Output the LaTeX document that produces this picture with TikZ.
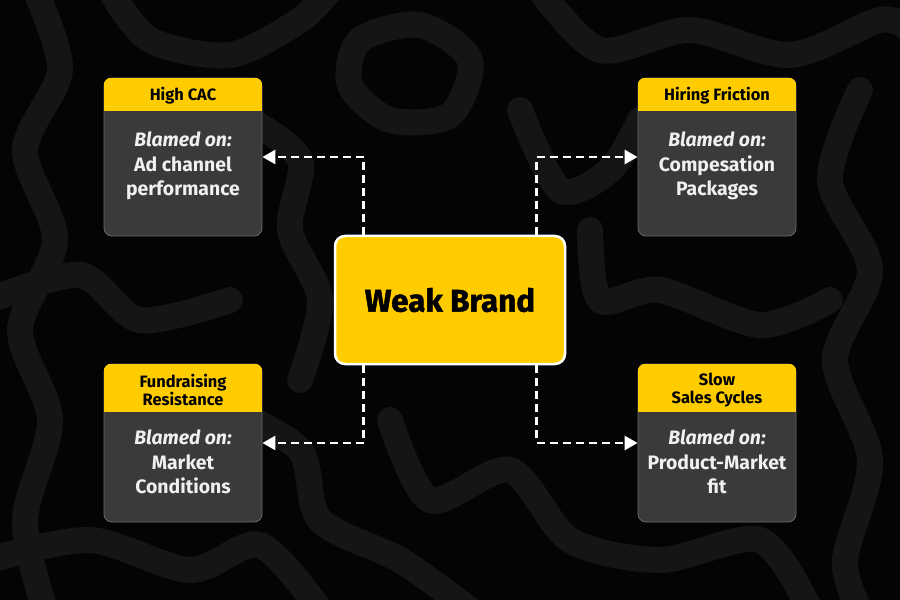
\documentclass[tikz,border=0pt]{standalone}
\usepackage{fontspec}
\setmainfont{Fira Sans}
\newfontfamily\heavyfont{Fira Sans}[BoldFeatures={FakeBold=1.5}]
\usetikzlibrary{arrows.meta, positioning, calc}
\definecolor{brandyellow}{RGB}{255, 204, 0}
\definecolor{cardgray}{RGB}{58, 58, 58}
\definecolor{cardedge}{RGB}{105, 105, 105}
\definecolor{bgwave}{RGB}{21, 21, 21}
\definecolor{bgblack}{RGB}{4, 4, 4}

\tikzset{
  card/.style={draw=cardedge, line width=0.8bp, fill=cardgray, rounded corners=8bp,
    minimum width=158bp, minimum height=158bp, inner sep=0pt},
  headtext/.style={text=black, font=\bfseries\fontsize{16.5}{17.5}\selectfont, align=center},
  bodytext/.style={text=white!94!black, font=\bfseries\fontsize{19.5}{24.5}\selectfont, align=center},
  link/.style={draw=white, line width=2.8bp, dash pattern=on 8bp off 5bp,
    -{Triangle[length=13bp, width=14bp]}},
  wave/.style={draw=bgwave, line width=26bp, line cap=round},
}

\begin{document}
\begin{tikzpicture}[x=1bp, y=-1bp]
  \useasboundingbox (0,0) rectangle (900,600);
  \fill[bgblack] (0,0) rectangle (900,600);

  % Background waves
  \draw[wave] plot[smooth] coordinates {(35,-10) (60,70) (25,150) (55,240) (20,330) (50,420) (25,520) (45,610)};
  \draw[wave] plot[smooth] coordinates {(110,-10) (150,40) (230,55) (300,20) (330,-10)};
  \draw[wave] plot[smooth cycle] coordinates {(360,40) (420,25) (470,60) (450,115) (390,120) (350,85)};
  \draw[wave] plot[smooth] coordinates {(250,120) (300,160) (290,230) (320,300) (300,380)};
  \draw[wave] plot[smooth] coordinates {(540,-10) (600,50) (690,30) (790,55) (880,20) (910,30)};
  \draw[wave] plot[smooth] coordinates {(860,90) (830,180) (870,270) (835,360) (870,460) (845,560) (860,610)};
  \draw[wave] plot[smooth] coordinates {(-10,300) (80,275) (140,320) (230,300)};
  \draw[wave] plot[smooth] coordinates {(590,230) (600,300) (660,290) (760,325) (830,300)};
  \draw[wave] plot[smooth] coordinates {(-10,560) (90,540) (190,570) (260,545) (320,610)};
  \draw[wave] plot[smooth] coordinates {(390,420) (430,500) (510,470) (570,540) (660,560) (760,540) (810,610)};
  \draw[wave] plot[smooth] coordinates {(230,410) (300,450) (320,520) (400,560) (470,610)};
  \draw[wave] plot[smooth] coordinates {(520,110) (560,190) (610,170) (640,120)};

  % Centre box
  \node[draw=white, line width=2.5bp, fill=brandyellow, rounded corners=10bp,
    minimum width=230bp, minimum height=128bp, inner sep=0pt] (weakbrand) at (450,300) {};
  \node[font=\heavyfont\bfseries\fontsize{31.5}{36}\selectfont, text=black] (weakbrandlabel) at (weakbrand) {Weak Brand};

  % Cards
  \node[card] (hicac) at (183,157) {};
  \node[card] (hiring) at (717,157) {};
  \node[card] (fundraise) at (183,443) {};
  \node[card] (slowsales) at (717,443) {};

  % Headers
  \begin{scope}
    \clip[rounded corners=8bp] (hicac.north west) rectangle (hicac.south east);
    \fill[brandyellow] (hicac.north west) rectangle ([yshift=-33bp]hicac.north east);
  \end{scope}
  \begin{scope}
    \clip[rounded corners=8bp] (hiring.north west) rectangle (hiring.south east);
    \fill[brandyellow] (hiring.north west) rectangle ([yshift=-33bp]hiring.north east);
  \end{scope}
  \begin{scope}
    \clip[rounded corners=8bp] (fundraise.north west) rectangle (fundraise.south east);
    \fill[brandyellow] (fundraise.north west) rectangle ([yshift=-48bp]fundraise.north east);
  \end{scope}
  \begin{scope}
    \clip[rounded corners=8bp] (slowsales.north west) rectangle (slowsales.south east);
    \fill[brandyellow] (slowsales.north west) rectangle ([yshift=-48bp]slowsales.north east);
  \end{scope}

  \node[headtext] (hicachead) at (183,96) {High CAC};
  \node[headtext] (hiringhead) at (717,96) {Hiring Friction};
  \node[headtext] (fundraisehead) at (183,390) {Fundraising\\Resistance};
  \node[headtext] (slowsaleshead) at (717,390) {Slow\\Sales Cycles};

  \node[bodytext] (hicacbody) at (183,166) {\itshape Blamed on:\\Ad channel\\performance};
  \node[bodytext] (hiringbody) at (717,166) {\itshape Blamed on:\\Compesation\\Packages};
  \node[bodytext] (fundraisebody) at (183,462) {\itshape Blamed on:\\Market\\Conditions};
  \node[bodytext] (slowsalesbody) at (717,462) {\itshape Blamed on:\\Product-Market\\fit};

  % Connectors
  \draw[link] ([xshift=30bp]weakbrand.north west) |- (hicac.east);
  \draw[link] ([xshift=-30bp]weakbrand.north east) |- (hiring.west);
  \draw[link] ([xshift=30bp]weakbrand.south west) |- (fundraise.east);
  \draw[link] ([xshift=-30bp]weakbrand.south east) |- (slowsales.west);
\end{tikzpicture}
\end{document}
